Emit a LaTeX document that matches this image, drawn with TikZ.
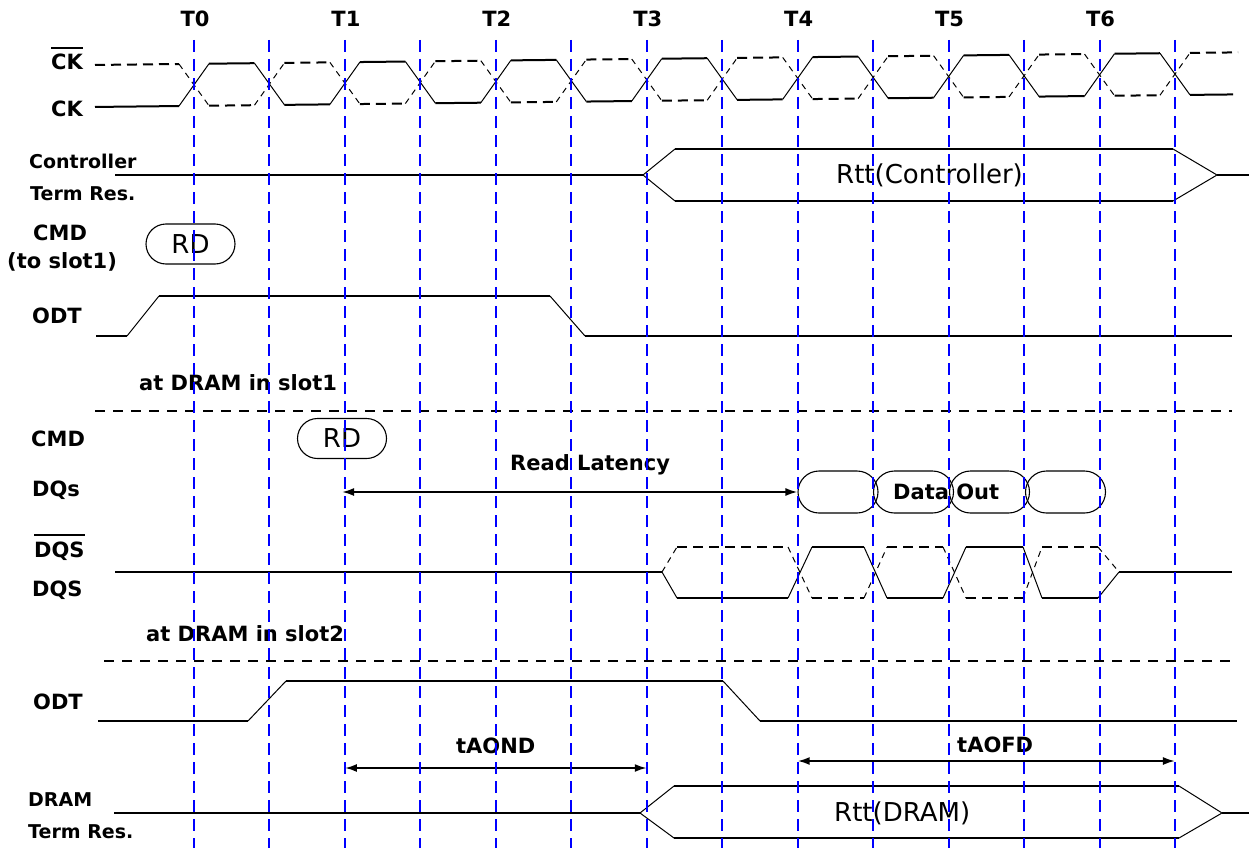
\documentclass[tikz,border=0pt]{standalone}
\usepackage{fontspec}
\setmainfont{DejaVu Sans}
\usetikzlibrary{arrows.meta, positioning, calc}

\newcommand\ovlbl[1]{\vbox{\hrule height 2.8pt\kern 5pt\hbox{#1}}}

\begin{document}
\begin{tikzpicture}[x=1pt, y=-1pt,
    clkline/.style={blue, line width=2pt, dash pattern=on 12pt off 7pt},
    sig/.style={line width=2pt},
    ramp/.style={line width=1pt},
    sigdash/.style={line width=2pt, dash pattern=on 10pt off 6pt},
    rampdash/.style={line width=1pt, dash pattern=on 6pt off 5pt},
    divider/.style={line width=1.8pt, dash pattern=on 10pt off 8pt},
    lbl/.style={font=\fontsize{21}{25}\selectfont\bfseries, inner sep=0pt},
    sublbl/.style={font=\fontsize{19}{23}\selectfont\bfseries, inner sep=0pt},
    rtt/.style={font=\fontsize{26}{30}\selectfont, inner sep=0pt},
    pill/.style={draw, line width=1.1pt, rounded corners=20pt, minimum width=89pt,
        minimum height=40pt, inner sep=0pt, font=\fontsize{26}{30}\selectfont},
    dqpill/.style={draw, line width=1.1pt, rounded corners=21pt, minimum width=80pt,
        minimum height=42pt, inner sep=0pt},
    dimline/.style={line width=2pt, {Latex[length=12pt,width=8pt]}-{Latex[length=12pt,width=8pt]}}]
  \def\tz{194} \def\hp{75.46} \def\hi{66} \def\lo{108} \def\ew{15}
  \path[use as bounding box, fill=white] (0,0) rectangle (1249,848);

  % clock pair
  \begin{scope}[yslant=0.011]
    \draw[sig] (95,\lo) -- (\tz-\ew,\lo);
    \draw[sigdash] (95,\hi) -- (\tz-\ew,\hi);
    \foreach \n in {0,...,13}{
      \pgfmathsetmacro{\xe}{\tz+\n*\hp}
      \ifodd\n\relax
        \draw[ramp] (\xe-\ew,\hi) -- (\xe+\ew,\lo);
        \draw[rampdash] (\xe-\ew,\lo) -- (\xe+\ew,\hi);
      \else
        \draw[ramp] (\xe-\ew,\lo) -- (\xe+\ew,\hi);
        \draw[rampdash] (\xe-\ew,\hi) -- (\xe+\ew,\lo);
      \fi
    }
    \foreach \n in {0,...,12}{
      \pgfmathsetmacro{\xa}{\tz+\n*\hp+\ew}
      \pgfmathsetmacro{\xb}{\tz+(\n+1)*\hp-\ew}
      \ifodd\n\relax
        \draw[sig] (\xa,\lo) -- (\xb,\lo);
        \draw[sigdash] (\xa,\hi) -- (\xb,\hi);
      \else
        \draw[sig] (\xa,\hi) -- (\xb,\hi);
        \draw[sigdash] (\xa,\lo) -- (\xb,\lo);
      \fi
    }
    \draw[sig] (\tz+13*\hp+\ew,\lo) -- (1233,\lo);
    \draw[sigdash] (\tz+13*\hp+\ew,\hi) -- (1238,\hi);
  \end{scope}

  \foreach \k in {0,...,6}
    \node[lbl, anchor=base] (t\k) at (\tz+2*\k*\hp+1,27) {T\k};

  % signal names
  \node[lbl, anchor=base west] (ckb) at (51,70) {\ovlbl{CK}};
  \node[lbl, anchor=base west] (ck) at (51,117) {CK};
  \node[sublbl, anchor=base west] (ctl1) at (29,168) {Controller};
  \node[sublbl, anchor=base west] (ctl2) at (30,200) {Term Res.};
  \node[lbl, anchor=base west] (cmd1) at (33,240) {CMD};
  \node[lbl, anchor=base west] (cmd1b) at (7,268) {(to slot1)};
  \node[lbl, anchor=base west] (odt1) at (32,323) {ODT};
  \node[lbl, anchor=base west] (slot1) at (139,390) {at DRAM in slot1};
  \node[lbl, anchor=base west] (cmd2) at (31,446) {CMD};
  \node[lbl, anchor=base west] (dq) at (32,496) {DQs};
  \node[lbl, anchor=base west] (dqsb) at (34,557) {\ovlbl{DQS}};
  \node[lbl, anchor=base west] (dqs) at (32,596) {DQS};
  \node[lbl, anchor=base west] (slot2) at (146,641) {at DRAM in slot2};
  \node[lbl, anchor=base west] (odt2) at (33,709) {ODT};
  \node[sublbl, anchor=base west] (dram1) at (28,806) {DRAM};
  \node[sublbl, anchor=base west] (dram2) at (28,838) {Term Res.};

  % controller termination
  \draw[sig] (115,175) -- (643,175);
  \draw[ramp] (675,149) -- (643,175) -- (675,201);
  \draw[sig] (675,149) -- (1173,149);
  \draw[sig] (675,201) -- (1173,201);
  \draw[ramp] (1173,149) -- (1217,175) -- (1173,201);
  \draw[sig] (1217,175) -- (1249,175);
  \node[rtt, anchor=base west] (rttc) at (836,183) {Rtt(Controller)};

  % slot1
  \node[pill] (rd1) at (190.5,244) {RD};
  \draw[sig] (96,336) -- (127,336);
  \draw[ramp] (127,336) -- (159,296);
  \draw[sig] (159,296) -- (550,296);
  \draw[ramp] (550,296) -- (585,336);
  \draw[sig] (585,336) -- (1232,336);
  \draw[divider] (95,411) -- (1232,411);

  % slot2 read
  \node[pill] (rd2) at (342,438.5) {RD};
  \foreach \x [count=\i] in {838,913.5,989.5,1065.5}
    \node[dqpill] (dq\i) at (\x,492) {};
  \node[lbl, anchor=base west] (dout) at (893,499) {Data Out};
  \node[lbl, anchor=base west] (rl) at (510,470) {Read Latency};
  \draw[dimline] (rd2 |- dq1.west) -- (dq1.west);

  \draw[sig] (115,572) -- (662,572);
  \draw[sig] (677,598) -- (788,598) (812,547) -- (864,547) (887,598) -- (943,598)
    (966,547) -- (1023,547) (1042,598) -- (1098,598);
  \draw[ramp] (662,572) -- (677,598) (788,598) -- (812,547) (864,547) -- (887,598)
    (943,598) -- (966,547) (1023,547) -- (1042,598) (1098,598) -- (1119,572);
  \draw[sigdash] (677,547) -- (788,547) (812,598) -- (864,598) (887,547) -- (943,547)
    (966,598) -- (1023,598) (1042,547) -- (1098,547);
  \draw[rampdash] (662,572) -- (677,547) (788,547) -- (812,598) (864,598) -- (887,547)
    (943,547) -- (966,598) (1023,598) -- (1042,547) (1098,547) -- (1119,572);
  \draw[sig] (1119,572) -- (1232,572);
  \draw[divider] (104,661) -- (1237,661);

  % slot2 odt and termination
  \draw[sig] (98,721) -- (248,721);
  \draw[ramp] (248,721) -- (286,681);
  \draw[sig] (286,681) -- (723,681);
  \draw[ramp] (723,681) -- (760,721);
  \draw[sig] (760,721) -- (1237,721);

  \node[lbl, anchor=base west] (aon) at (456,753) {tAOND};
  \coordinate (aon-l) at (\tz+2*\hp,768);
  \coordinate (aon-r) at (\tz+6*\hp,768);
  \draw[dimline] (aon-l) -- (aon-r);
  \node[lbl, anchor=base west] (aof) at (957,752) {tAOFD};
  \coordinate (aof-l) at (\tz+8*\hp,761);
  \coordinate (aof-r) at (\tz+13*\hp,761);
  \draw[dimline] (aof-l) -- (aof-r);

  \draw[sig] (114,813) -- (640,813);
  \draw[ramp] (674,786) -- (640,813) -- (674,838);
  \draw[sig] (674,786) -- (1179,786);
  \draw[sig] (674,838) -- (1179,838);
  \draw[ramp] (1179,786) -- (1222,813) -- (1179,838);
  \draw[sig] (1222,813) -- (1249,813);
  \node[rtt, anchor=base west] (rttd) at (834,821) {Rtt(DRAM)};

  % clock edges
  \foreach \n in {0,...,13}
    \draw[clkline] (\tz+\n*\hp,40) -- (\tz+\n*\hp,848);
\end{tikzpicture}
\end{document}
